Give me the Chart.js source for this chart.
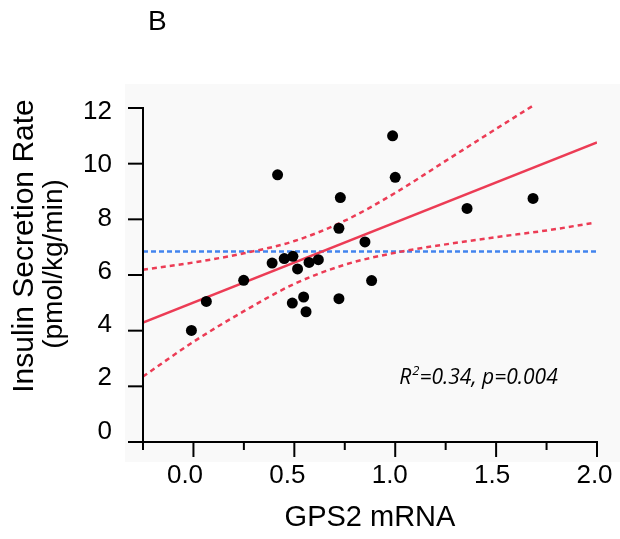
<!DOCTYPE html>
<html>
<head>
<meta charset="utf-8">
<script src="https://cdn.jsdelivr.net/npm/chart.js@4.4.1/dist/chart.umd.min.js"></script>
<style>
html,body{margin:0;padding:0;background:#fff;}
#wrap{width:620px;height:539px;}
</style>
</head>
<body>
<div id="wrap"><canvas id="c" width="620" height="539"></canvas></div>
<script>
// ---- data ----
const gpsX = [-0.01, 0.064, 0.249, 0.39, 0.417, 0.45, 0.493, 0.516, 0.49, 0.546, 0.558,
              0.573, 0.619, 0.721, 0.728, 0.721, 0.85, 0.883, 0.987, 1.0, 1.356, 1.683];
const isrY = [4.01, 5.05, 5.81, 6.43, 9.60, 6.59, 6.67, 6.22, 4.99, 5.21, 4.68,
              6.45, 6.55, 7.68, 8.78, 5.15, 7.19, 5.80, 11.0, 9.51, 8.39, 8.75];
const fitX = [-0.25, 2.0];
const fitY = [4.29, 10.76];
const upperX = [-0.25, 0.0, 0.25, 0.5, 0.75, 1.0, 1.25, 1.5, 1.68];
const upperY = [6.19, 6.45, 6.78, 7.22, 7.95, 8.95, 10.1, 11.25, 12.07];
const lowerX = [-0.25, 0.0, 0.25, 0.5, 0.75, 1.0, 1.25, 1.5, 1.75, 1.98];
const lowerY = [2.35, 3.6, 4.7, 5.68, 6.37, 6.8, 7.1, 7.36, 7.6, 7.87];
const meanX = [-0.25, 2.0];
const meanY = [6.84, 6.84];
const xMajorTicks = [0, 0.5, 1.0, 1.5, 2.0];
const xMinorTicks = [-0.25, 0.25, 0.75, 1.25, 1.75];
const yTicks = [0, 2, 4, 6, 8, 10, 12];
const xTitle = 'GPS2 mRNA';
const yTitle = ['Insulin Secretion Rate', '(pmol/kg/min)'];
const panelLabel = 'B';
const statText = ['R', '2', '=0.34, p=0.004'];

const pts = (xs, ys) => xs.map((x, i) => ({x: x, y: ys[i]}));

const RED = '#ec3c55';
const BLUE = '#4284ee';
const SANS = '"Liberation Sans", Arial, sans-serif';

const decorPlugin = {
  id: 'decor',
  beforeDraw(chart) {
    const {ctx, chartArea: ca, width} = chart;
    ctx.save();
    ctx.fillStyle = '#f9f9f9';
    ctx.fillRect(ca.left - 18, ca.top - 24, width - (ca.left - 18), (ca.bottom + 20) - (ca.top - 24));
    ctx.restore();
  },
  afterDraw(chart) {
    const {ctx} = chart;
    const xs = chart.scales.x, ys = chart.scales.y;
    const x0 = xs.getPixelForValue(xs.min);
    const x1 = xs.getPixelForValue(xs.max);
    const yTop = ys.getPixelForValue(ys.max);
    const yBot = ys.getPixelForValue(ys.min);
    ctx.save();
    ctx.strokeStyle = '#000';
    ctx.lineWidth = 2;
    ctx.lineCap = 'butt';
    const seg = (a, b, c, d) => { ctx.beginPath(); ctx.moveTo(a, b); ctx.lineTo(c, d); ctx.stroke(); };
    seg(x0, yTop - 1, x0, yBot);
    seg(x0 - 1, yBot, x1 + 1, yBot);
    yTicks.forEach(v => { const p = ys.getPixelForValue(v); seg(x0 - 15, p, x0, p); });
    xMajorTicks.forEach(v => { const p = xs.getPixelForValue(v); seg(p, yBot, p, yBot + 15); });
    xMinorTicks.forEach(v => { const p = xs.getPixelForValue(v); seg(p, yBot, p, yBot + 8); });

    // panel label
    ctx.fillStyle = '#000';
    ctx.font = '28px ' + SANS;
    ctx.textAlign = 'left';
    ctx.textBaseline = 'alphabetic';
    ctx.fillText(panelLabel, 148, 30);

    // y axis title (two lines)
    ctx.textAlign = 'center';
    ctx.font = '30px ' + SANS;
    ctx.save(); ctx.translate(33, 246); ctx.rotate(-Math.PI / 2); ctx.fillText(yTitle[0], 0, 0); ctx.restore();
    ctx.font = '28px ' + SANS;
    ctx.save(); ctx.translate(62, 264); ctx.rotate(-Math.PI / 2); ctx.fillText(yTitle[1], 0, 0); ctx.restore();

    // statistics annotation
    const sx = xs.getPixelForValue(1.02), sy = ys.getPixelForValue(2.1);
    ctx.textAlign = 'left';
    ctx.font = 'italic 21px "Open Sans", sans-serif';
    let cx = sx;
    ctx.fillText(statText[0], cx, sy); cx += ctx.measureText(statText[0]).width + 1;
    ctx.font = 'italic 13px "Open Sans", sans-serif';
    ctx.fillText(statText[1], cx, sy - 9); cx += ctx.measureText(statText[1]).width;
    ctx.font = 'italic 21px "Open Sans", sans-serif';
    ctx.fillText(statText[2], cx, sy);
    ctx.restore();
  }
};

new Chart(document.getElementById('c'), {
  type: 'scatter',
  data: {
    datasets: [
      { label: 'data', data: pts(gpsX, isrY), backgroundColor: '#000', borderWidth: 0,
        pointRadius: 5.5, pointHoverRadius: 5.5, showLine: false },
      { label: 'fit', data: pts(fitX, fitY), type: 'line', borderColor: RED, borderWidth: 2.5,
        pointRadius: 0, fill: false, tension: 0 },
      { label: 'upper', data: pts(upperX, upperY), type: 'line', borderColor: RED, borderWidth: 2.5,
        borderDash: [5, 4], pointRadius: 0, fill: false, cubicInterpolationMode: 'monotone', clip: 8 },
      { label: 'lower', data: pts(lowerX, lowerY), type: 'line', borderColor: RED, borderWidth: 2.5,
        borderDash: [5, 4], pointRadius: 0, fill: false, cubicInterpolationMode: 'monotone' },
      { label: 'mean', data: pts(meanX, meanY), type: 'line', borderColor: BLUE, borderWidth: 2.5,
        borderDash: [5, 3], pointRadius: 0, fill: false }
    ]
  },
  options: {
    responsive: false,
    devicePixelRatio: 1,
    animation: false,
    layout: { padding: { top: 108, right: 23, left: 0, bottom: 0 } },
    plugins: { legend: { display: false }, tooltip: { enabled: false } },
    scales: {
      x: { type: 'linear', display: false, min: -0.25, max: 2.0 },
      y: { type: 'linear', display: false, min: 0, max: 12 },
      xl: {
        type: 'linear', position: 'bottom', min: -0.2051, max: 2.0122,
        afterBuildTicks: s => { s.ticks = xMajorTicks.map(v => ({value: v})); },
        afterFit: s => { s.height = 97; s.paddingLeft = 0; s.paddingRight = 0; },
        grid: { display: false, drawTicks: false }, border: { display: false },
        ticks: { color: '#000', padding: 18, maxRotation: 0, autoSkip: false,
                 font: { family: SANS, size: 26 },
                 callback: v => Number(v).toFixed(1) },
        title: { display: true, text: xTitle, color: '#000', padding: { top: 0, bottom: 4 },
                 font: { family: SANS, size: 29 } }
      },
      yl: {
        type: 'linear', position: 'left', min: -0.394, max: 12.151,
        afterBuildTicks: s => { s.ticks = yTicks.map(v => ({value: v})); },
        afterFit: s => { s.width = 143; s.paddingTop = 0; s.paddingBottom = 0; },
        grid: { display: false, drawTicks: false }, border: { display: false },
        ticks: { color: '#000', padding: 31, autoSkip: false,
                 font: { family: SANS, size: 26 },
                 callback: v => String(v) }
      }
    }
  },
  plugins: [decorPlugin]
});
</script>
</body>
</html>
